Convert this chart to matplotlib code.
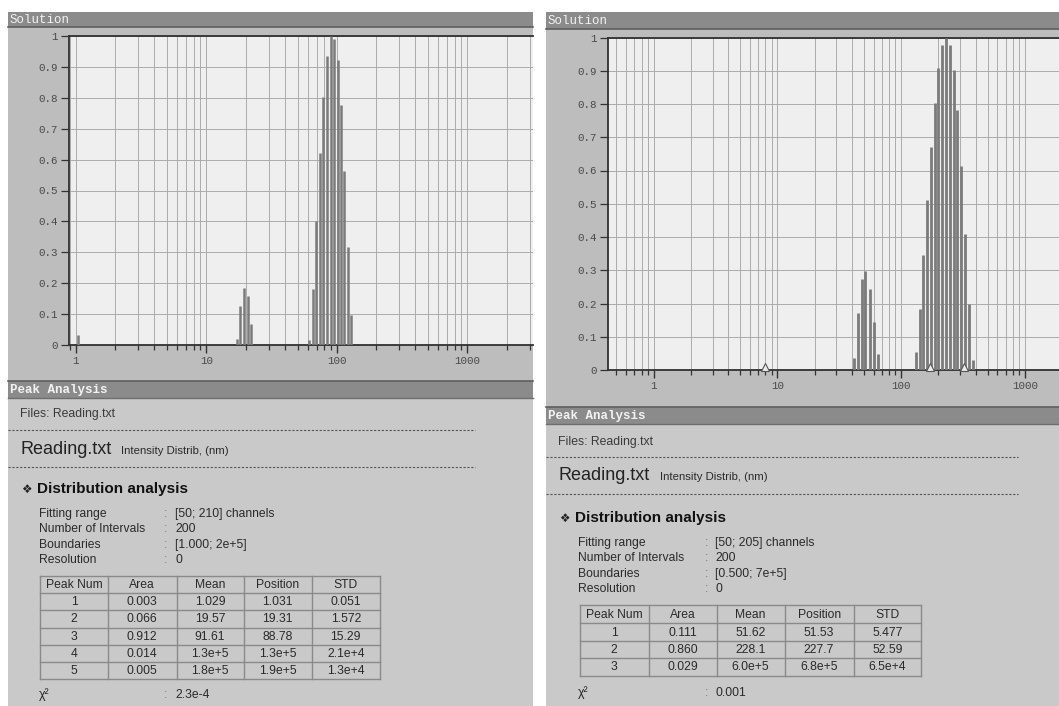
import matplotlib
matplotlib.use("Agg")
import matplotlib.pyplot as plt
from matplotlib.patches import Rectangle
from matplotlib.lines import Line2D
from matplotlib.ticker import FixedLocator, LogLocator, NullFormatter
import numpy as np

W, H = 1059, 706

# --- left screenshot: size distribution (nm), boundaries [1; 2e5]
left_size = [1.05, 17.2, 18.2, 19.6, 20.8, 22.1,
             61.5, 65.3, 69.7, 74.3, 78.7, 84.0, 89.7, 95.5, 101.4, 107.4, 114.0, 121.6, 128.8]
left_int = [0.032, 0.019, 0.126, 0.185, 0.158, 0.068,
            0.016, 0.18, 0.402, 0.62, 0.804, 0.935, 1.0, 0.99, 0.922, 0.777, 0.564, 0.318, 0.096]

# --- right screenshot: boundaries [0.5; 7e5]
right_size = [41.4, 44.7, 48.1, 51.5, 55.6, 59.9, 64.6,
              131, 141, 151, 163, 174, 187, 200, 215, 230, 248, 265, 284, 306, 330, 353, 380]
right_int = [0.036, 0.171, 0.275, 0.299, 0.245, 0.145, 0.048,
             0.055, 0.183, 0.345, 0.512, 0.67, 0.804, 0.908, 0.976, 1.0, 0.976, 0.903, 0.783,
             0.614, 0.41, 0.2, 0.03]
right_marks = [7.9, 170, 325]

x_major = [1, 10, 100, 1000]
x_major_labels = ["1", "10", "100", "1000"]
y_ticks = [0, 0.1, 0.2, 0.3, 0.4, 0.5, 0.6, 0.7, 0.8, 0.9, 1.0]
y_labels = ["0", "0.1", "0.2", "0.3", "0.4", "0.5", "0.6", "0.7", "0.8", "0.9", "1"]

# peak analysis tables
table_header = ["Peak Num", "Area", "Mean", "Position", "STD"]
left_peak = ["1", "2", "3", "4", "5"]
left_area = ["0.003", "0.066", "0.912", "0.014", "0.005"]
left_mean = ["1.029", "19.57", "91.61", "1.3e+5", "1.8e+5"]
left_pos = ["1.031", "19.31", "88.78", "1.3e+5", "1.9e+5"]
left_std = ["0.051", "1.572", "15.29", "2.1e+4", "1.3e+4"]
left_info = ["[50; 210] channels", "200", "[1.000; 2e+5]", "0"]
left_chi = "2.3e-4"

right_peak = ["1", "2", "3"]
right_area = ["0.111", "0.860", "0.029"]
right_mean = ["51.62", "228.1", "6.0e+5"]
right_pos = ["51.53", "227.7", "6.8e+5"]
right_std = ["5.477", "52.59", "6.5e+4"]
right_info = ["[50; 205] channels", "200", "[0.500; 7e+5]", "0"]
right_chi = "0.001"

info_labels = ["Fitting range", "Number of Intervals", "Boundaries", "Resolution"]

SANS = ["Liberation Sans", "DejaVu Sans"]
MONO = "Liberation Mono"

fig = plt.figure(figsize=(W / 100, H / 100), dpi=100)
fig.patch.set_facecolor("white")


def rect(x0, y0, x1, y1, color, z=-5):
    fig.add_artist(Rectangle((x0 / W, 1 - y1 / H), (x1 - x0) / W, (y1 - y0) / H,
                             transform=fig.transFigure, facecolor=color,
                             edgecolor="none", zorder=z))


def line(x0, x1, y0, y1, **kw):
    fig.add_artist(Line2D([x0 / W, x1 / W], [1 - y0 / H, 1 - y1 / H],
                          transform=fig.transFigure, **kw))


def txt(x, y, s, **kw):
    kw.setdefault("va", "center")
    fig.text(x / W, 1 - y / H, s, **kw)


def panel(x0, x1, head_bot, pa_top, pa_bot):
    rect(x0, 12, x1, H, "#c9c9c9")
    rect(x0, head_bot, x1, pa_top, "#bdbdbd")
    rect(x0, 12, x1, head_bot, "#8b8b8b")
    rect(x0, pa_top, x1, pa_bot, "#8b8b8b")
    line(x0, x1, head_bot, head_bot, color="#5e5e5e", lw=1.2)
    line(x0, x1, pa_top, pa_top, color="#5e5e5e", lw=1.2)
    line(x0, x1, pa_bot, pa_bot, color="#6e6e6e", lw=1.0)
    txt(x0 + 2, (12 + head_bot) / 2 + 0.5, "Solution", family=MONO, size=9, color="#f2f2f2")
    txt(x0 + 2, (pa_top + pa_bot) / 2 + 0.5, "Peak Analysis", family=MONO, size=9,
        color="#f2f2f2", weight="bold")


def chart(x0, x1, y0, y1, xlim, sizes, vals, barw):
    ax = fig.add_axes([x0 / W, 1 - y1 / H, (x1 - x0) / W, (y1 - y0) / H])
    ax.set_facecolor("#efefef")
    ax.set_xscale("log")
    ax.set_xlim(*xlim)
    ax.set_ylim(0, 1)
    ax.vlines(sizes, 0, vals, colors="#7b7b7b", lw=barw, capstyle="butt", zorder=3)
    ax.xaxis.set_major_locator(FixedLocator(x_major))
    ax.set_xticklabels(x_major_labels)
    ax.xaxis.set_minor_locator(LogLocator(base=10, subs=np.arange(2, 10)))
    ax.xaxis.set_minor_formatter(NullFormatter())
    ax.set_yticks(y_ticks)
    ax.set_yticklabels(y_labels)
    ax.set_axisbelow(True)
    ax.grid(True, which="both", axis="x", color="#ababab", lw=0.7)
    ax.grid(True, which="major", axis="y", color="#ababab", lw=0.7)
    ax.tick_params(axis="x", which="major", direction="out", length=6, width=1,
                   color="#333333", pad=2)
    ax.tick_params(axis="x", which="minor", direction="out", length=3.5, width=0.9,
                   color="#333333")
    ax.tick_params(axis="y", direction="out", length=6, width=0.9, color="#333333", pad=2)
    for lab in ax.get_xticklabels() + ax.get_yticklabels():
        lab.set_family(MONO)
        lab.set_fontsize(7.8)
        lab.set_color("#4a4a4a")
    for s in ("top", "left", "bottom"):
        ax.spines[s].set_color("#303030")
        ax.spines[s].set_linewidth(1.3)
    ax.spines["right"].set_visible(False)
    return ax


def analysis(x0, dash_x1, y_files, y_dash1, y_title, y_dash2, y_dist, info_ys, info_vals,
             col_x, row_y, cols, y_chi, chi, lab_x, colon_x, val_x, int_x):
    txt(x0 + 12, y_files, "Files: Reading.txt", family=SANS, size=8.8, color="#3a3a3a")
    line(x0, dash_x1, y_dash1, y_dash1, color="#555555", lw=0.8, ls=(0, (2, 1.5)))
    txt(x0 + 12, y_title, "Reading.txt", family=SANS, size=13, color="#222222")
    txt(int_x, y_title + 1.5, "Intensity Distrib, (nm)", family=SANS, size=8.2, color="#2a2a2a")
    line(x0, dash_x1, y_dash2, y_dash2, color="#555555", lw=0.8, ls=(0, (2, 1.5)))
    txt(x0 + 13, y_dist, "\u2756", family=["DejaVu Sans"], size=8.5, color="#222222")
    txt(x0 + 29, y_dist, "Distribution analysis", family=SANS, size=11, weight="bold",
        color="#111111")
    for lab, val, y in zip(info_labels, info_vals, info_ys):
        txt(lab_x, y, lab, family=SANS, size=8.7, color="#2a2a2a")
        txt(colon_x, y, ":", family=SANS, size=8.7, color="#777777")
        txt(val_x, y, val, family=SANS, size=8.7, color="#2a2a2a")
    # table grid
    for x in col_x:
        line(x, x, row_y[0], row_y[-1], color="#8a8a8a", lw=1.0)
    for y in row_y:
        line(col_x[0], col_x[-1], y, y, color="#8a8a8a", lw=1.0)
    rows = [table_header] + [list(r) for r in zip(*cols)]
    for i, row in enumerate(rows):
        yc = (row_y[i] + row_y[i + 1]) / 2 + 0.5
        for j, cell in enumerate(row):
            xc = (col_x[j] + col_x[j + 1]) / 2
            txt(xc, yc, cell, family=SANS, size=8.7, color="#2a2a2a", ha="center")
    txt(lab_x, y_chi, "\u03c7\u00b2", family=SANS, size=9, color="#2a2a2a")
    txt(colon_x, y_chi, ":", family=SANS, size=8.7, color="#777777")
    txt(val_x, y_chi, chi, family=SANS, size=8.7, color="#2a2a2a")


# ---------------- left screenshot
panel(8, 533, 27, 381, 398)
chart(69.3, 533, 36, 345, (0.893, 3176), left_size, left_int, 1.8)
analysis(8, 475, 414, 430, 450, 467, 489,
         [514, 529.5, 545, 560], left_info,
         [40, 108, 176.5, 243.5, 312, 379.6],
         [576, 593.3, 610.3, 627.7, 645, 662.3, 678.5],
         [left_peak, left_area, left_mean, left_pos, left_std],
         695, left_chi, 39, 164, 175, 121)

# ---------------- right screenshot
panel(546, W, 29, 407, 424)
axr = chart(608.3, W, 37.5, 370, (0.431, 1885), right_size, right_int, 2.0)
axr.plot(right_marks, [0.008] * len(right_marks), ls="none", marker="^", ms=6,
         mfc="#ececec", mec="#555555", mew=0.8, clip_on=False, zorder=5)
analysis(546, 1018, 442, 457, 476, 494, 518,
         [543, 558.3, 574, 589.5], right_info,
         [579.6, 648.8, 716.6, 784.7, 853.5, 921.4],
         [605, 623.3, 640.7, 658.3, 675.7],
         [right_peak, right_area, right_mean, right_pos, right_std],
         692.5, right_chi, 578, 705, 715, 660.5)

fig.savefig("out.png", dpi=100)
